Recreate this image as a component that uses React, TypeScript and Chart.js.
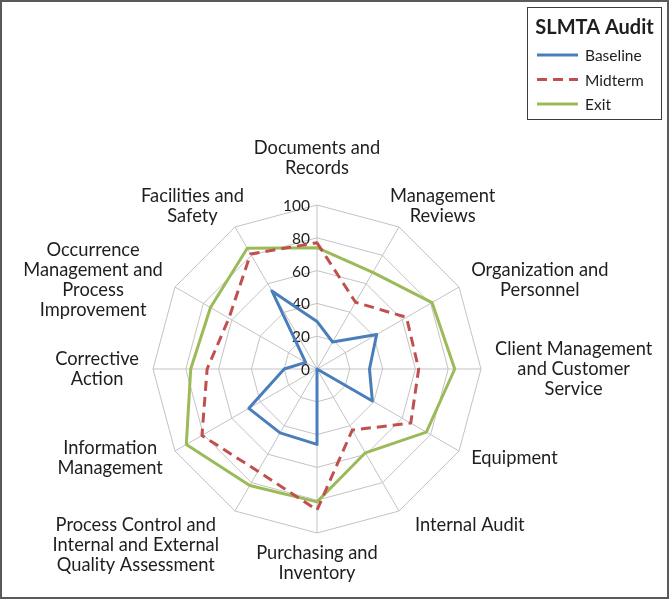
import React, { useEffect, useRef } from "react";
import { Chart, registerables } from "chart.js";

Chart.register(...registerables);

// ---- data ----
const categories: string[][] = [
  ["Documents and", "Records"],
  ["Management", "Reviews"],
  ["Organization and", "Personnel"],
  ["Client Management", "and Customer", "Service"],
  ["Equipment"],
  ["Internal Audit"],
  ["Purchasing and", "Inventory"],
  ["Process Control and", "Internal and External", "Quality Assessment"],
  ["Information", "Management"],
  ["Corrective", "Action"],
  ["Occurrence", "Management and", "Process", "Improvement"],
  ["Facilities and", "Safety"],
];
const seriesNames = ["Baseline", "Midterm", "Exit"];
const baseline = [29, 19, 42, 32, 39, 0, 46, 45, 48, 20, 8, 55];
const midterm = [77, 47, 63, 62, 66, 43, 86, 72, 81, 67, 62, 81];
const exitValues = [74, 68, 81, 84, 77, 59, 81, 82, 92, 77, 75, 85];
const legendTitle = "SLMTA Audit";
const axisMin = 0;
const axisMax = 100;
const axisStep = 20;

// ---- styles ----
const FONT = "Lato, 'DejaVu Sans', sans-serif";
const TEXT = "#1e1e1e";
const LABEL_SIZE = 18.3;
const LINE_H = 20;
const GAP = 14;
const TICK_SIZE = 15.5;
const GRID = "#c3c3c3";

const tickPlugin = {
  id: "customTicks",
  beforeDatasetsDraw(chart: any) {
    const s = chart.scales.r;
    const ctx = chart.ctx;
    ctx.save();
    ctx.font = `${TICK_SIZE}px ${FONT}`;
    ctx.fillStyle = TEXT;
    ctx.textAlign = "right";
    ctx.textBaseline = "middle";
    s.ticks.forEach((t: any) => {
      const d = s.getDistanceFromCenterForValue(t.value);
      ctx.fillText(String(t.value), s.xCenter - 7, s.yCenter - d + 1);
    });
    ctx.restore();
  },
};

const pointLabelPlugin = {
  id: "customPointLabels",
  afterDraw(chart: any) {
    const s = chart.scales.r;
    const ctx = chart.ctx;
    ctx.save();
    ctx.font = `${LABEL_SIZE}px ${FONT}`;
    ctx.fillStyle = TEXT;
    ctx.textAlign = "center";
    ctx.textBaseline = "middle";
    const labels = chart.data.labels as string[][];
    labels.forEach((lines, i) => {
      const theta = s.getIndexAngle(i);
      const sn = Math.sin(theta);
      const cs = Math.cos(theta);
      const p = s.getPointPosition(i, s.drawingArea);
      const w = Math.max(...lines.map((l) => ctx.measureText(l).width));
      const h = lines.length * LINE_H;
      let left: number;
      let top: number;
      if (Math.abs(sn) < 0.1) {
        left = p.x - w / 2;
        top = cs > 0 ? p.y - 27 - h : p.y + 10;
      } else {
        const ax = p.x + GAP * sn;
        const ay = p.y - GAP * cs;
        const dir = Math.sign(sn);
        let overlap = 0;
        if (Math.abs(sn) < 0.8) overlap = cs > 0 ? 16 : -9;
        const near = ax - dir * overlap;
        left = dir > 0 ? near : near - w;
        if (Math.abs(sn) >= 0.8) top = ay - h / 2;
        else top = cs > 0 ? ay + 11 - h : ay - 8;
      }
      lines.forEach((ln, k) => {
        ctx.fillText(ln, left + w / 2, top + LINE_H * (k + 0.5));
      });
    });
    ctx.restore();
  },
};

const frameLegendPlugin = {
  id: "frameLegend",
  afterDraw(chart: any) {
    const ctx = chart.ctx;
    ctx.save();
    // outer frame
    ctx.strokeStyle = "#5a5a5a";
    ctx.lineWidth = 2;
    ctx.strokeRect(1, 1, chart.width - 3, chart.height - 2);
    // legend box
    const bx = 527.5, by = 7.5, bw = 134, bh = 112;
    ctx.lineWidth = 1;
    ctx.strokeStyle = "#3c3c3c";
    ctx.strokeRect(bx, by, bw, bh);
    ctx.fillStyle = TEXT;
    ctx.font = `bold 20px ${FONT}`;
    ctx.textAlign = "center";
    ctx.textBaseline = "middle";
    ctx.fillText(legendTitle, bx + bw / 2, 28);
    ctx.font = `15.5px ${FONT}`;
    ctx.textAlign = "left";
    chart.data.datasets.forEach((ds: any, i: number) => {
      const y = 55 + i * 24.5;
      ctx.save();
      ctx.strokeStyle = ds.borderColor;
      ctx.lineWidth = ds.borderWidth;
      ctx.setLineDash(ds.borderDash || []);
      ctx.beginPath();
      ctx.moveTo(537, y);
      ctx.lineTo(578, y);
      ctx.stroke();
      ctx.restore();
      ctx.fillStyle = TEXT;
      ctx.fillText(ds.label, 585, y + 1);
    });
    ctx.restore();
  },
};

export default function App() {
  const ref = useRef<HTMLCanvasElement | null>(null);
  useEffect(() => {
    document.body.style.margin = "0";
    if (!ref.current) return;
    const chart = new Chart(ref.current, {
      type: "radar",
      data: {
        labels: categories,
        datasets: [
          {
            label: seriesNames[0],
            data: baseline,
            borderColor: "#4a7ebb",
            borderWidth: 3,
            fill: false,
            pointRadius: 0,
            tension: 0,
            borderJoinStyle: "round",
          },
          {
            label: seriesNames[1],
            data: midterm,
            borderColor: "#c0504d",
            borderWidth: 3,
            borderDash: [10, 6],
            fill: false,
            pointRadius: 0,
            tension: 0,
            borderJoinStyle: "round",
          },
          {
            label: seriesNames[2],
            data: exitValues,
            borderColor: "#9bbb59",
            borderWidth: 3,
            fill: false,
            pointRadius: 0,
            tension: 0,
            borderJoinStyle: "round",
          },
        ],
      },
      options: {
        animation: false,
        responsive: false,
        devicePixelRatio: 1,
        events: [],
        layout: { padding: { left: 153, top: 205, right: 189, bottom: 66 } },
        plugins: { legend: { display: false }, tooltip: { enabled: false } },
        scales: {
          r: {
            min: axisMin,
            max: axisMax,
            ticks: { stepSize: axisStep, display: false },
            grid: { color: GRID, lineWidth: 1 },
            angleLines: { color: GRID, lineWidth: 1 },
            pointLabels: { display: false },
          },
        },
      },
      plugins: [tickPlugin, pointLabelPlugin, frameLegendPlugin],
    });
    return () => chart.destroy();
  }, []);
  return <canvas ref={ref} width={670} height={599} style={{ display: "block" }} />;
}
